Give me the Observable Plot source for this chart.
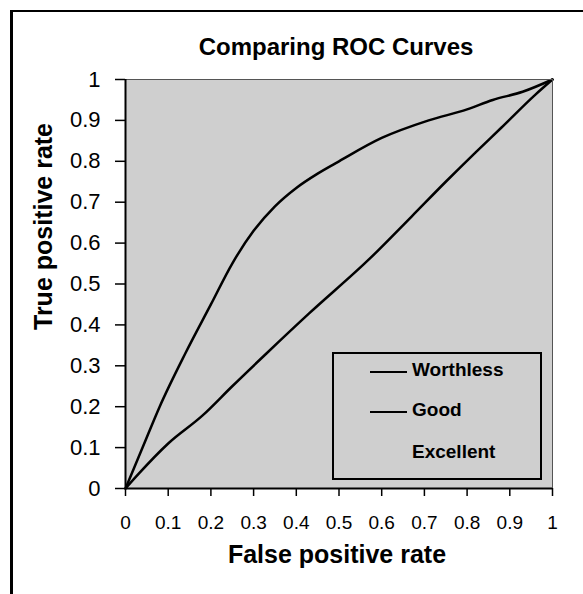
<!DOCTYPE html>
<html>
<head>
<meta charset="utf-8">
<script src="https://cdn.jsdelivr.net/npm/d3@7"></script>
<script src="https://cdn.jsdelivr.net/npm/@observablehq/plot@0.6"></script>
<style>
  html, body { margin: 0; padding: 0; background: #fff; }
  #wrap { position: relative; width: 583px; height: 594px; overflow: hidden; font-family: "Liberation Sans", Arial, sans-serif; }
  #border { position: absolute; left: 10px; top: 10px; width: 700px; height: 700px; border-left: 3px solid #000; border-top: 2px solid #000; pointer-events: none; }
  #legend { position: absolute; left: 332px; top: 352px; width: 206px; height: 124px; border: 2px solid #000; background: #cfcfcf; }
  .item { position: absolute; left: 0; height: 24px; width: 206px; }
  .item svg { position: absolute; left: 36px; top: 0; }
  .item span { position: absolute; left: 78px; top: 0; line-height: 24px; font-size: 19px; font-weight: bold; color: #000; }
</style>
</head>
<body>
<div id="wrap"></div>
<script>
// ---- data ----
const xTicks = [0, 0.1, 0.2, 0.3, 0.4, 0.5, 0.6, 0.7, 0.8, 0.9, 1];
const yTicks = [0, 0.1, 0.2, 0.3, 0.4, 0.5, 0.6, 0.7, 0.8, 0.9, 1];
const tickLabels = ["0", "0.1", "0.2", "0.3", "0.4", "0.5", "0.6", "0.7", "0.8", "0.9", "1"];

const seriesNames = ["Worthless", "Good", "Excellent"];

const worthlessX = [0, 0.03, 0.1, 0.18, 0.25, 0.33, 0.43, 0.57, 0.67, 0.75, 0.82, 0.88, 0.96, 1];
const worthlessY = [0, 0.035, 0.11, 0.178, 0.25, 0.33, 0.428, 0.56, 0.665, 0.75, 0.822, 0.882, 0.963, 1];

const goodX = [0, 0.04, 0.08, 0.14, 0.2, 0.25, 0.3, 0.35, 0.4, 0.45, 0.5, 0.6, 0.71, 0.8, 0.86, 0.93, 1];
const goodY = [0, 0.1, 0.2, 0.33, 0.45, 0.55, 0.63, 0.69, 0.735, 0.77, 0.80, 0.857, 0.90, 0.927, 0.95, 0.97, 1];

// ---- build rows ----
const worthless = worthlessX.map((x, i) => ({x, y: worthlessY[i], s: seriesNames[0]}));
const good = goodX.map((x, i) => ({x, y: goodY[i], s: seriesNames[1]}));

const font = "Liberation Sans, Arial, sans-serif";

const chart = Plot.plot({
  width: 583,
  height: 594,
  marginLeft: 125,
  marginRight: 31,
  marginTop: 79,
  marginBottom: 106,
  style: {fontFamily: font, background: "transparent", overflow: "visible"},
  x: {domain: [0, 1]},
  y: {domain: [0, 1]},
  marks: [
    Plot.frame({fill: "#cfcfcf", stroke: null}),
    Plot.line(worthless, {x: "x", y: "y", stroke: "#000", strokeWidth: 2.5, curve: "monotone-x"}),
    Plot.line(good, {x: "x", y: "y", stroke: "#000", strokeWidth: 2.5, curve: "monotone-x"}),
    Plot.frame({stroke: "#555", strokeWidth: 1}),
    Plot.ruleX([0], {stroke: "#000", strokeWidth: 2}),
    Plot.ruleY([0], {stroke: "#000", strokeWidth: 2}),
    Plot.axisY({
      ticks: yTicks, tickFormat: (d, i) => tickLabels[i], tickSize: 10, tickPadding: 15,
      fontSize: 22, label: null, stroke: "#000", strokeWidth: 1.5
    }),
    Plot.axisX({
      ticks: xTicks, tickFormat: (d, i) => tickLabels[i], tickSize: 8, tickPadding: 19,
      fontSize: 19, label: null, stroke: "#000", strokeWidth: 1.5
    }),
    Plot.text(["Comparing ROC Curves"], {frameAnchor: "top", dy: -42, dx: -3, fontSize: 24, fontWeight: "bold", fill: "#000"}),
    Plot.text(["False positive rate"], {frameAnchor: "bottom", dy: 74, dx: -2, fontSize: 25, fontWeight: "bold", fill: "#000"}),
    Plot.text(["True positive rate"], {frameAnchor: "left", rotate: -90, dx: -82, dy: 46, fontSize: 25, fontWeight: "bold", fill: "#000"})
  ]
});

const wrap = document.getElementById("wrap");
wrap.appendChild(chart);

const border = document.createElement("div");
border.id = "border";
wrap.appendChild(border);

// legend
const legend = document.createElement("div");
legend.id = "legend";
const tops = [4, 44, 86];
const swatch = [true, true, false];
seriesNames.forEach((name, i) => {
  const item = document.createElement("div");
  item.className = "item";
  item.style.top = tops[i] + "px";
  if (swatch[i]) {
    const svg = d3.create("svg").attr("width", 38).attr("height", 24);
    svg.append("line").attr("x1", 0).attr("x2", 37).attr("y1", 14).attr("y2", 14)
      .attr("stroke", "#000").attr("stroke-width", 2);
    item.appendChild(svg.node());
  }
  const span = document.createElement("span");
  span.textContent = name;
  item.appendChild(span);
  legend.appendChild(item);
});
wrap.appendChild(legend);
</script>
</body>
</html>
